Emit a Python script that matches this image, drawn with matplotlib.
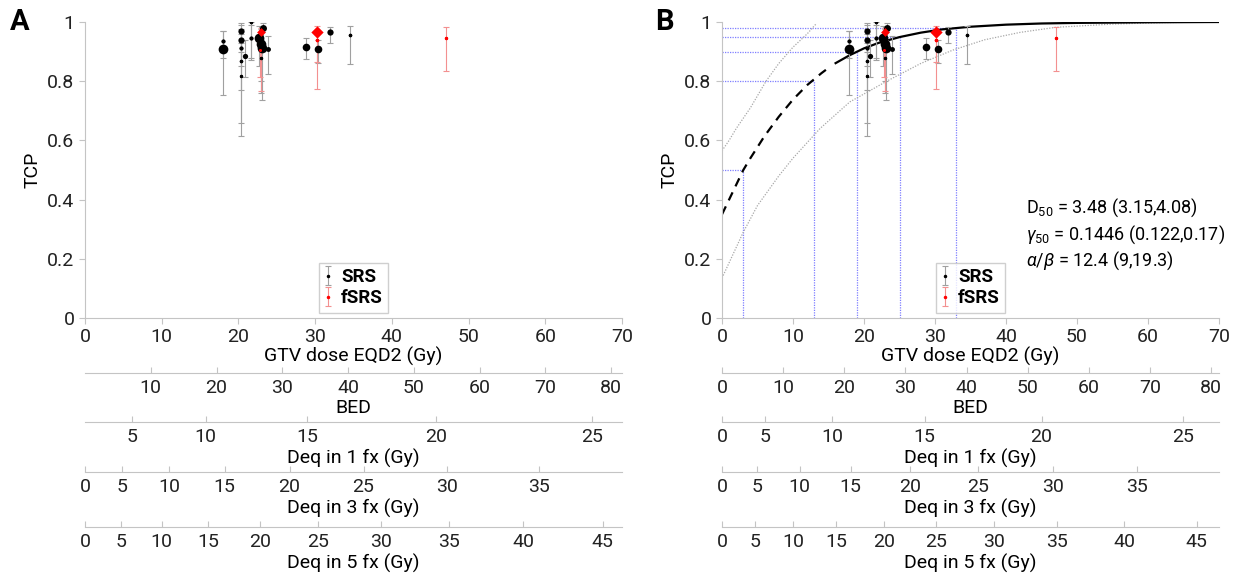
import numpy as np
import matplotlib
matplotlib.use("Agg")
import matplotlib.pyplot as plt

plt.rcParams['font.family'] = ['Roboto', 'DejaVu Sans']
plt.rcParams['mathtext.fontset'] = 'custom'
plt.rcParams['mathtext.rm'] = 'Roboto'
plt.rcParams['mathtext.it'] = 'Roboto:italic'

# SRS data: EQD2 (Gy), TCP, lower / upper bound, marker size (pt)
srs_x = [17.95, 17.95, 20.4, 20.4, 20.4, 20.4, 20.4, 20.9, 21.7, 21.7,
         22.7, 22.9, 23.1, 23.2, 23.0, 23.9, 28.8, 30.4, 31.9, 34.5]
srs_y = [0.910, 0.937, 0.970, 0.938, 0.911, 0.868, 0.819, 0.886, 0.999, 0.947,
         0.945, 0.925, 0.911, 0.979, 0.877, 0.908, 0.917, 0.908, 0.967, 0.956]
srs_lo = [0.753, 0.880, 0.900, 0.850, 0.770, 0.616, 0.660, 0.815, 0.870, 0.880,
          0.850, 0.800, 0.735, 0.910, 0.760, 0.823, 0.875, 0.860, 0.928, 0.857]
srs_hi = [0.970, 0.970, 0.995, 0.990, 0.975, 0.960, 0.930, 0.940, 1.000, 0.990,
          0.985, 0.975, 0.965, 0.995, 0.940, 0.954, 0.945, 0.940, 0.982, 0.986]
srs_ms = [7.0, 3.0, 4.5, 4.5, 3.0, 2.5, 2.2, 3.8, 2.5, 3.0,
          7.0, 7.0, 7.0, 5.0, 2.2, 3.5, 5.5, 5.5, 4.5, 2.5]

# fSRS data
fsrs_x = [22.9, 22.8, 30.2, 30.2, 47.0]
fsrs_y = [0.965, 0.905, 0.967, 0.939, 0.947]
fsrs_lo = [0.767, 0.815, 0.774, 0.865, 0.834]
fsrs_hi = [0.980, 0.960, 0.985, 0.970, 0.982]
fsrs_ms = [5.0, 2.2, 7.0, 2.5, 2.2]

# fitted TCP curve (panel B)
fit_dash_x = [0, 1, 2, 3, 4, 6, 8, 10, 12, 14, 15]
fit_dash_y = [0.35, 0.40, 0.45, 0.50, 0.54, 0.615, 0.68, 0.738, 0.787, 0.827, 0.845]
fit_x = [16, 18, 20, 22, 25, 28, 31, 35, 40, 45, 50, 60, 70]
fit_y = [0.861, 0.888, 0.911, 0.929, 0.949, 0.964, 0.975, 0.984, 0.991, 0.995, 0.997, 0.999, 1.0]
ci_up_x = [0, 1, 2, 4, 6.2, 8, 10, 12, 13.3]
ci_up_y = [0.565, 0.60, 0.64, 0.71, 0.80, 0.86, 0.915, 0.96, 0.995]
ci_lo_x = [0, 3, 5, 8, 10, 13.8, 18, 23.2, 28, 32.5, 37, 42, 47, 55, 62, 70]
ci_lo_y = [0.135, 0.29, 0.38, 0.48, 0.54, 0.64, 0.73, 0.80, 0.86, 0.905, 0.94,
           0.965, 0.982, 0.993, 0.998, 1.0]

# reference levels (TCP) and doses
ref_tcp = [0.5, 0.8, 0.9, 0.95, 0.98]
ref_dose = [3, 13, 19, 25, 33]

fit_text = [r'D$_{50}$ = 3.48 (3.15,4.08)',
            r'$\gamma_{50}$ = 0.1446 (0.122,0.17)',
            r'$\alpha/\beta$ = 12.4 (9,19.3)']

bed_ticks = [0, 10, 20, 30, 40, 50, 60, 70, 80]
deq1_ticks = [0, 5, 10, 15, 20, 25]
deq3_ticks = [0, 5, 10, 15, 20, 25, 30, 35]
deq5_ticks = [0, 5, 10, 15, 20, 25, 30, 35, 40, 45]

GRAY = '#c4c4c4'
FS = 14


def bed_to_eqd2(b, ab):
    return np.asarray(b, float) / (1 + 2.0 / ab)


def deq_to_eqd2(d, n, ab):
    d = np.asarray(d, float)
    return d * (d / n + ab) / (2 + ab)


def draw_points(ax):
    for xs, ys, lo, hi, ms, col, ecol, mk, lab in [
            (srs_x, srs_y, srs_lo, srs_hi, srs_ms, 'black', '#a0a0a0', 'o', 'SRS'),
            (fsrs_x, fsrs_y, fsrs_lo, fsrs_hi, fsrs_ms, 'red', '#f39090', 'D', 'fSRS')]:
        ys = np.array(ys)
        yerr = [ys - np.array(lo), np.array(hi) - ys]
        ax.errorbar(xs, ys, yerr=yerr, fmt='.', ms=3, color=col, ecolor=ecol,
                    elinewidth=0.8, capsize=2.5, capthick=0.8, label=lab, zorder=3)
        sizes = np.array(ms) ** 2
        markers = [mk if m >= 4.5 else 'o' for m in ms]
        for xi, yi, si, mi in zip(xs, ys, sizes, markers):
            ax.scatter(xi, yi, s=si * (0.8 if mi == 'D' else 1), marker=mi,
                       color=col, zorder=4, linewidths=0)


def style_main(ax):
    ax.set_xlim(0, 70)
    ax.set_ylim(0, 1)
    ax.set_xticks(range(0, 71, 10))
    ax.set_yticks([0, 0.2, 0.4, 0.6, 0.8, 1])
    ax.set_yticklabels(['0', '0.2', '0.4', '0.6', '0.8', '1'])
    for s in ['top', 'right']:
        ax.spines[s].set_visible(False)
    for s in ['left', 'bottom']:
        ax.spines[s].set_color(GRAY)
    ax.tick_params(colors=GRAY, labelcolor='#222222', labelsize=FS, length=4)
    ax.set_ylabel('TCP', fontsize=FS, labelpad=4)
    ax.set_xlabel('GTV dose EQD2 (Gy)', fontsize=FS, labelpad=0)
    leg = ax.legend(loc='lower center', bbox_to_anchor=(0.5, 0.005), frameon=True,
                    fancybox=False, prop={'weight': 'bold', 'size': FS - 0.5},
                    handlelength=0.4, handletextpad=0.5, borderpad=0.3,
                    labelspacing=0.15, borderaxespad=0.2)
    leg.get_frame().set_edgecolor(GRAY)


def secondary(fig, x0, w, yline, positions, labels, title):
    a = fig.add_axes([x0, yline, w, 0.001])
    a.set_xlim(0, 70)
    a.patch.set_visible(False)
    for s in ['top', 'left', 'right']:
        a.spines[s].set_visible(False)
    a.spines['bottom'].set_color(GRAY)
    a.set_yticks([])
    a.set_xticks(positions)
    a.set_xticklabels(labels)
    a.tick_params(axis='x', direction='in', length=4, colors=GRAY,
                  labelcolor='#222222', labelsize=FS, pad=4)
    a.set_xlabel(title, fontsize=FS, labelpad=2)
    return a


fig = plt.figure(figsize=(12.41, 5.78), dpi=100)

W, H = 1241.0, 578.0
bottom = 1 - 318 / H
top = 1 - 22 / H
axA = fig.add_axes([85 / W, bottom, (622 - 85) / W, top - bottom])
axB = fig.add_axes([722 / W, bottom, (1219 - 722) / W, top - bottom])

# panel A
draw_points(axA)
style_main(axA)

# panel B
for t, d in zip(ref_tcp, ref_dose):
    axB.plot([0, d], [t, t], color='#7f7fff', lw=0.9, ls=(0, (1, 1)), zorder=1)
    axB.plot([d, d], [0, t], color='#7f7fff', lw=0.9, ls=(0, (1, 1)), zorder=1)
axB.plot(ci_up_x, ci_up_y, color='#a8a8a8', lw=0.9, ls=(0, (1, 1.2)), zorder=2)
axB.plot(ci_lo_x, ci_lo_y, color='#a8a8a8', lw=0.9, ls=(0, (1, 1.2)), zorder=2)
axB.plot(fit_dash_x, fit_dash_y, color='black', lw=1.6, ls=(0, (4, 3)), zorder=2)
axB.plot(fit_x, fit_y, color='black', lw=1.6, zorder=2)
draw_points(axB)
style_main(axB)
axB.text(42.8, 0.282, '\n'.join(fit_text), fontsize=13, va='center', ha='left',
         linespacing=1.25)

fig.text(10 / W, 1 - 22 / H, 'A', fontsize=21, fontweight='bold', va='center')
fig.text(655 / W, 1 - 22 / H, 'B', fontsize=21, fontweight='bold', va='center')

lines_y = [1 - 373 / H, 1 - 422 / H, 1 - 472 / H, 1 - 527 / H]
for ax, ab, skip0 in [(axA, 12.0, True), (axB, 12.4, False)]:
    pos = ax.get_position()
    bt = bed_ticks[1:] if skip0 else bed_ticks
    d1 = deq1_ticks[1:] if skip0 else deq1_ticks
    secondary(fig, pos.x0, pos.width, lines_y[0], bed_to_eqd2(bt, ab),
              [str(v) for v in bt], 'BED')
    secondary(fig, pos.x0, pos.width, lines_y[1], deq_to_eqd2(d1, 1, ab),
              [str(v) for v in d1], 'Deq in 1 fx (Gy)')
    secondary(fig, pos.x0, pos.width, lines_y[2], deq_to_eqd2(deq3_ticks, 3, ab),
              [str(v) for v in deq3_ticks], 'Deq in 3 fx (Gy)')
    secondary(fig, pos.x0, pos.width, lines_y[3], deq_to_eqd2(deq5_ticks, 5, ab),
              [str(v) for v in deq5_ticks], 'Deq in 5 fx (Gy)')

fig.savefig('out.png', dpi=100)
